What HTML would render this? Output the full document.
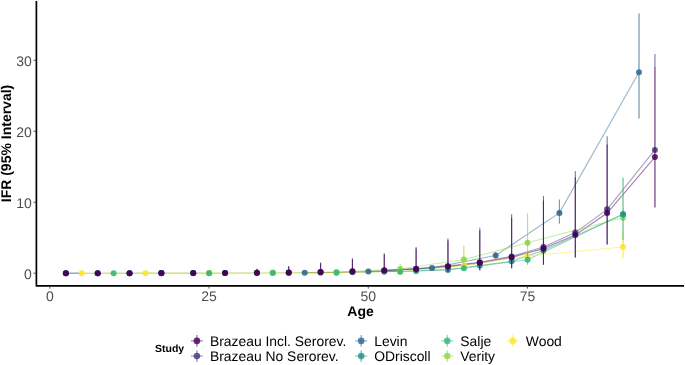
<!DOCTYPE html>
<html><head><meta charset="utf-8"><title>IFR by Age</title>
<style>
html,body{margin:0;padding:0;background:#fff;}
body{width:685px;height:365px;overflow:hidden;}
svg{display:block;font-family:"Liberation Sans",Arial,Helvetica,sans-serif;text-rendering:geometricPrecision;}
.tk{font-size:14px;fill:#4d4d4d;}
.ti{font-size:14px;font-weight:bold;fill:#000;}
.lg{font-size:13.9px;fill:#000;}
.lt{font-size:10.5px;font-weight:bold;fill:#000;}
</style></head>
<body>
<svg width="685" height="365" viewBox="0 0 685 365">
<rect width="685" height="365" fill="#fff"/>
<g>
<line x1="65.87" y1="273.18" x2="81.79" y2="273.18" stroke="#4a7691" stroke-width="1.1" stroke-opacity="0.85"/>
<polyline points="81.79,273.19 145.47,273.16 209.15,273.09 272.83,272.95 304.67,272.77" fill="none" stroke="#b8d04c" stroke-width="1.1" stroke-opacity="0.85"/>
<polyline points="304.67,272.77 336.51,272.42 368.35,271.78 400.19,270.86" fill="none" stroke="#a3b347" stroke-width="1.4" stroke-opacity="0.9"/>
<polyline points="384.27,270.46 416.11,269.06 447.95,266.58 479.79,262.84 511.63,257.36 543.47,248.60 575.31,234.96 607.15,213.03 654.91,157.08" fill="none" stroke="#440154" stroke-width="1.1" stroke-opacity="0.48" stroke-linejoin="round"/>
<polyline points="384.27,270.29 416.11,268.80 447.95,266.17 479.79,262.20 511.63,256.38 543.47,247.08 575.31,232.61 607.15,209.33 654.91,149.93" fill="none" stroke="#443A83" stroke-width="1.1" stroke-opacity="0.48" stroke-linejoin="round"/>
<polyline points="368.35,271.57 432.03,267.88 495.71,255.46 559.39,212.88 638.99,72.35" fill="none" stroke="#31688E" stroke-width="1.1" stroke-opacity="0.48" stroke-linejoin="round"/>
<polyline points="384.27,271.73 416.11,270.91 447.95,269.96 479.79,265.57 511.63,261.32 543.47,250.47 623.07,214.35" fill="none" stroke="#21908C" stroke-width="1.1" stroke-opacity="0.48" stroke-linejoin="round"/>
<polyline points="400.19,271.78 463.87,268.23 527.55,259.72 623.07,214.29" fill="none" stroke="#35B779" stroke-width="1.1" stroke-opacity="0.48" stroke-linejoin="round"/>
<polyline points="336.51,272.06 400.19,268.98 463.87,259.50 527.55,242.82 623.07,217.84" fill="none" stroke="#8FD744" stroke-width="1.1" stroke-opacity="0.48" stroke-linejoin="round"/>
<polyline points="400.19,271.78 463.87,265.61 527.55,256.03 623.07,246.94" fill="none" stroke="#FDE725" stroke-width="1.1" stroke-opacity="0.48" stroke-linejoin="round"/>
<line x1="81.79" x2="81.79" y1="273.06" y2="273.20" stroke="#FDE725" stroke-width="1.1" stroke-opacity="0.7"/>
<circle cx="81.79" cy="273.20" r="3.0" fill="#FDE725" fill-opacity="0.9"/>
<line x1="145.47" x2="145.47" y1="272.99" y2="273.20" stroke="#FDE725" stroke-width="1.1" stroke-opacity="0.7"/>
<circle cx="145.47" cy="273.20" r="3.0" fill="#FDE725" fill-opacity="0.9"/>
<line x1="209.15" x2="209.15" y1="272.85" y2="273.20" stroke="#FDE725" stroke-width="1.1" stroke-opacity="0.7"/>
<circle cx="209.15" cy="273.13" r="3.0" fill="#FDE725" fill-opacity="0.9"/>
<line x1="272.83" x2="272.83" y1="272.49" y2="273.13" stroke="#FDE725" stroke-width="1.1" stroke-opacity="0.7"/>
<circle cx="272.83" cy="272.99" r="3.0" fill="#FDE725" fill-opacity="0.9"/>
<line x1="336.51" x2="336.51" y1="272.14" y2="272.92" stroke="#FDE725" stroke-width="1.1" stroke-opacity="0.7"/>
<circle cx="336.51" cy="272.63" r="3.0" fill="#FDE725" fill-opacity="0.9"/>
<line x1="400.19" x2="400.19" y1="270.72" y2="272.35" stroke="#FDE725" stroke-width="1.1" stroke-opacity="0.7"/>
<circle cx="400.19" cy="271.78" r="3.0" fill="#FDE725" fill-opacity="0.9"/>
<line x1="463.87" x2="463.87" y1="263.26" y2="267.52" stroke="#FDE725" stroke-width="1.1" stroke-opacity="0.7"/>
<circle cx="463.87" cy="265.61" r="3.0" fill="#FDE725" fill-opacity="0.9"/>
<line x1="527.55" x2="527.55" y1="251.91" y2="259.72" stroke="#FDE725" stroke-width="1.1" stroke-opacity="0.7"/>
<circle cx="527.55" cy="256.03" r="3.0" fill="#FDE725" fill-opacity="0.9"/>
<line x1="623.07" x2="623.07" y1="231.33" y2="258.51" stroke="#FDE725" stroke-width="1.7" stroke-opacity="0.5"/>
<circle cx="623.07" cy="246.94" r="3.0" fill="#FDE725" fill-opacity="0.85"/>
<line x1="209.15" x2="209.15" y1="272.54" y2="273.10" stroke="#8FD744" stroke-width="1.1" stroke-opacity="0.7"/>
<circle cx="209.15" cy="272.98" r="3.0" fill="#8FD744" fill-opacity="0.9"/>
<line x1="272.83" x2="272.83" y1="271.89" y2="272.91" stroke="#8FD744" stroke-width="1.1" stroke-opacity="0.7"/>
<circle cx="272.83" cy="272.60" r="3.0" fill="#8FD744" fill-opacity="0.9"/>
<line x1="336.51" x2="336.51" y1="270.91" y2="272.66" stroke="#8FD744" stroke-width="1.1" stroke-opacity="0.7"/>
<circle cx="336.51" cy="272.06" r="3.0" fill="#8FD744" fill-opacity="0.9"/>
<line x1="400.19" x2="400.19" y1="264.12" y2="270.76" stroke="#8FD744" stroke-width="1.1" stroke-opacity="0.7"/>
<circle cx="400.19" cy="268.98" r="3.0" fill="#8FD744" fill-opacity="0.9"/>
<line x1="463.87" x2="463.87" y1="245.59" y2="265.32" stroke="#8FD744" stroke-width="1.1" stroke-opacity="0.7"/>
<circle cx="463.87" cy="259.50" r="3.0" fill="#8FD744" fill-opacity="0.9"/>
<line x1="527.55" x2="527.55" y1="213.30" y2="255.81" stroke="#8FD744" stroke-width="1.1" stroke-opacity="0.7"/>
<circle cx="527.55" cy="242.82" r="3.0" fill="#8FD744" fill-opacity="0.9"/>
<line x1="623.07" x2="623.07" y1="178.81" y2="246.23" stroke="#8FD744" stroke-width="1.7" stroke-opacity="0.18"/>
<circle cx="623.07" cy="217.84" r="3.0" fill="#8FD744" fill-opacity="0.85"/>
<line x1="113.63" x2="113.63" y1="273.19" y2="273.20" stroke="#35B779" stroke-width="1.1" stroke-opacity="0.7"/>
<circle cx="113.63" cy="273.19" r="3.0" fill="#35B779" fill-opacity="0.9"/>
<line x1="209.15" x2="209.15" y1="273.14" y2="273.18" stroke="#35B779" stroke-width="1.1" stroke-opacity="0.7"/>
<circle cx="209.15" cy="273.16" r="3.0" fill="#35B779" fill-opacity="0.9"/>
<line x1="272.83" x2="272.83" y1="272.99" y2="273.13" stroke="#35B779" stroke-width="1.1" stroke-opacity="0.7"/>
<circle cx="272.83" cy="273.06" r="3.0" fill="#35B779" fill-opacity="0.9"/>
<line x1="336.51" x2="336.51" y1="272.63" y2="272.99" stroke="#35B779" stroke-width="1.1" stroke-opacity="0.7"/>
<circle cx="336.51" cy="272.85" r="3.0" fill="#35B779" fill-opacity="0.9"/>
<line x1="400.19" x2="400.19" y1="271.07" y2="272.49" stroke="#35B779" stroke-width="1.1" stroke-opacity="0.7"/>
<circle cx="400.19" cy="271.78" r="3.0" fill="#35B779" fill-opacity="0.9"/>
<line x1="463.87" x2="463.87" y1="265.39" y2="270.36" stroke="#35B779" stroke-width="1.1" stroke-opacity="0.7"/>
<circle cx="463.87" cy="268.23" r="3.0" fill="#35B779" fill-opacity="0.9"/>
<line x1="527.55" x2="527.55" y1="251.91" y2="264.68" stroke="#35B779" stroke-width="1.1" stroke-opacity="0.7"/>
<circle cx="527.55" cy="259.72" r="3.0" fill="#35B779" fill-opacity="0.9"/>
<line x1="623.07" x2="623.07" y1="177.39" y2="239.84" stroke="#35B779" stroke-width="1.7" stroke-opacity="0.5"/>
<circle cx="623.07" cy="214.29" r="3.0" fill="#35B779" fill-opacity="0.85"/>
<line x1="65.87" x2="65.87" y1="273.18" y2="273.18" stroke="#21908C" stroke-width="1.1" stroke-opacity="0.7"/>
<circle cx="65.87" cy="273.18" r="3.0" fill="#21908C" fill-opacity="0.9"/>
<line x1="97.71" x2="97.71" y1="273.19" y2="273.19" stroke="#21908C" stroke-width="1.1" stroke-opacity="0.7"/>
<circle cx="97.71" cy="273.19" r="3.0" fill="#21908C" fill-opacity="0.9"/>
<line x1="129.55" x2="129.55" y1="273.19" y2="273.19" stroke="#21908C" stroke-width="1.1" stroke-opacity="0.7"/>
<circle cx="129.55" cy="273.19" r="3.0" fill="#21908C" fill-opacity="0.9"/>
<line x1="161.39" x2="161.39" y1="273.18" y2="273.18" stroke="#21908C" stroke-width="1.1" stroke-opacity="0.7"/>
<circle cx="161.39" cy="273.18" r="3.0" fill="#21908C" fill-opacity="0.9"/>
<line x1="193.23" x2="193.23" y1="273.15" y2="273.16" stroke="#21908C" stroke-width="1.1" stroke-opacity="0.7"/>
<circle cx="193.23" cy="273.16" r="3.0" fill="#21908C" fill-opacity="0.9"/>
<line x1="225.07" x2="225.07" y1="273.10" y2="273.12" stroke="#21908C" stroke-width="1.1" stroke-opacity="0.7"/>
<circle cx="225.07" cy="273.11" r="3.0" fill="#21908C" fill-opacity="0.9"/>
<line x1="256.91" x2="256.91" y1="273.01" y2="273.05" stroke="#21908C" stroke-width="1.1" stroke-opacity="0.7"/>
<circle cx="256.91" cy="273.03" r="3.0" fill="#21908C" fill-opacity="0.9"/>
<line x1="288.75" x2="288.75" y1="272.89" y2="272.94" stroke="#21908C" stroke-width="1.1" stroke-opacity="0.7"/>
<circle cx="288.75" cy="272.92" r="3.0" fill="#21908C" fill-opacity="0.9"/>
<line x1="320.59" x2="320.59" y1="272.61" y2="272.72" stroke="#21908C" stroke-width="1.1" stroke-opacity="0.7"/>
<circle cx="320.59" cy="272.67" r="3.0" fill="#21908C" fill-opacity="0.9"/>
<line x1="352.43" x2="352.43" y1="272.26" y2="272.43" stroke="#21908C" stroke-width="1.1" stroke-opacity="0.7"/>
<circle cx="352.43" cy="272.34" r="3.0" fill="#21908C" fill-opacity="0.9"/>
<line x1="384.27" x2="384.27" y1="271.58" y2="271.88" stroke="#21908C" stroke-width="1.1" stroke-opacity="0.7"/>
<circle cx="384.27" cy="271.73" r="3.0" fill="#21908C" fill-opacity="0.9"/>
<line x1="416.11" x2="416.11" y1="270.68" y2="271.14" stroke="#21908C" stroke-width="1.1" stroke-opacity="0.7"/>
<circle cx="416.11" cy="270.91" r="3.0" fill="#21908C" fill-opacity="0.9"/>
<line x1="447.95" x2="447.95" y1="269.64" y2="270.29" stroke="#21908C" stroke-width="1.1" stroke-opacity="0.7"/>
<circle cx="447.95" cy="269.96" r="3.0" fill="#21908C" fill-opacity="0.9"/>
<line x1="479.79" x2="479.79" y1="264.81" y2="266.33" stroke="#21908C" stroke-width="1.1" stroke-opacity="0.7"/>
<circle cx="479.79" cy="265.57" r="3.0" fill="#21908C" fill-opacity="0.9"/>
<line x1="511.63" x2="511.63" y1="260.13" y2="262.51" stroke="#21908C" stroke-width="1.1" stroke-opacity="0.7"/>
<circle cx="511.63" cy="261.32" r="3.0" fill="#21908C" fill-opacity="0.9"/>
<line x1="543.47" x2="543.47" y1="248.20" y2="252.74" stroke="#21908C" stroke-width="1.1" stroke-opacity="0.7"/>
<circle cx="543.47" cy="250.47" r="3.0" fill="#21908C" fill-opacity="0.9"/>
<line x1="623.07" x2="623.07" y1="208.47" y2="220.24" stroke="#21908C" stroke-width="1.7" stroke-opacity="0.2"/>
<circle cx="623.07" cy="214.35" r="3.0" fill="#21908C" fill-opacity="0.85"/>
<line x1="161.39" x2="161.39" y1="273.16" y2="273.18" stroke="#31688E" stroke-width="1.1" stroke-opacity="0.7"/>
<circle cx="161.39" cy="273.17" r="3.0" fill="#31688E" fill-opacity="0.9"/>
<line x1="304.67" x2="304.67" y1="272.65" y2="272.79" stroke="#31688E" stroke-width="1.1" stroke-opacity="0.7"/>
<circle cx="304.67" cy="272.72" r="3.0" fill="#31688E" fill-opacity="0.9"/>
<line x1="368.35" x2="368.35" y1="271.35" y2="271.78" stroke="#31688E" stroke-width="1.1" stroke-opacity="0.7"/>
<circle cx="368.35" cy="271.57" r="3.0" fill="#31688E" fill-opacity="0.9"/>
<line x1="432.03" x2="432.03" y1="267.03" y2="268.52" stroke="#31688E" stroke-width="1.1" stroke-opacity="0.7"/>
<circle cx="432.03" cy="267.88" r="3.0" fill="#31688E" fill-opacity="0.9"/>
<line x1="495.71" x2="495.71" y1="251.91" y2="258.30" stroke="#31688E" stroke-width="1.1" stroke-opacity="0.7"/>
<circle cx="495.71" cy="255.46" r="3.0" fill="#31688E" fill-opacity="0.9"/>
<line x1="559.39" x2="559.39" y1="199.39" y2="223.80" stroke="#31688E" stroke-width="1.1" stroke-opacity="0.7"/>
<circle cx="559.39" cy="212.88" r="3.0" fill="#31688E" fill-opacity="0.9"/>
<line x1="638.99" x2="638.99" y1="13.45" y2="118.49" stroke="#31688E" stroke-width="1.7" stroke-opacity="0.5"/>
<circle cx="638.99" cy="72.35" r="3.0" fill="#31688E" fill-opacity="0.85"/>
<line x1="65.87" x2="65.87" y1="272.99" y2="273.20" stroke="#443A83" stroke-width="1.1" stroke-opacity="0.7"/>
<circle cx="65.87" cy="273.20" r="3.0" fill="#443A83" fill-opacity="0.9"/>
<line x1="97.71" x2="97.71" y1="272.77" y2="273.20" stroke="#443A83" stroke-width="1.1" stroke-opacity="0.7"/>
<circle cx="97.71" cy="273.13" r="3.0" fill="#443A83" fill-opacity="0.9"/>
<line x1="129.55" x2="129.55" y1="272.42" y2="273.20" stroke="#443A83" stroke-width="1.1" stroke-opacity="0.7"/>
<circle cx="129.55" cy="273.13" r="3.0" fill="#443A83" fill-opacity="0.9"/>
<line x1="161.39" x2="161.39" y1="271.92" y2="273.20" stroke="#443A83" stroke-width="1.1" stroke-opacity="0.7"/>
<circle cx="161.39" cy="273.06" r="3.0" fill="#443A83" fill-opacity="0.9"/>
<line x1="193.23" x2="193.23" y1="271.43" y2="273.20" stroke="#443A83" stroke-width="1.1" stroke-opacity="0.7"/>
<circle cx="193.23" cy="272.99" r="3.0" fill="#443A83" fill-opacity="0.9"/>
<line x1="225.07" x2="225.07" y1="270.36" y2="273.20" stroke="#443A83" stroke-width="1.1" stroke-opacity="0.7"/>
<circle cx="225.07" cy="272.92" r="3.0" fill="#443A83" fill-opacity="0.9"/>
<line x1="256.91" x2="256.91" y1="268.80" y2="273.13" stroke="#443A83" stroke-width="1.1" stroke-opacity="0.7"/>
<circle cx="256.91" cy="272.70" r="3.0" fill="#443A83" fill-opacity="0.9"/>
<line x1="288.75" x2="288.75" y1="266.10" y2="273.13" stroke="#443A83" stroke-width="1.1" stroke-opacity="0.7"/>
<circle cx="288.75" cy="272.42" r="3.0" fill="#443A83" fill-opacity="0.9"/>
<line x1="320.59" x2="320.59" y1="262.55" y2="273.06" stroke="#443A83" stroke-width="1.1" stroke-opacity="0.7"/>
<circle cx="320.59" cy="271.99" r="3.0" fill="#443A83" fill-opacity="0.9"/>
<line x1="352.43" x2="352.43" y1="258.30" y2="272.99" stroke="#443A83" stroke-width="1.1" stroke-opacity="0.7"/>
<circle cx="352.43" cy="271.35" r="3.0" fill="#443A83" fill-opacity="0.9"/>
<line x1="384.27" x2="384.27" y1="253.33" y2="272.85" stroke="#443A83" stroke-width="1.1" stroke-opacity="0.7"/>
<circle cx="384.27" cy="270.29" r="3.0" fill="#443A83" fill-opacity="0.9"/>
<line x1="416.11" x2="416.11" y1="246.94" y2="272.49" stroke="#443A83" stroke-width="1.1" stroke-opacity="0.7"/>
<circle cx="416.11" cy="268.80" r="3.0" fill="#443A83" fill-opacity="0.9"/>
<line x1="447.95" x2="447.95" y1="238.42" y2="271.78" stroke="#443A83" stroke-width="1.1" stroke-opacity="0.7"/>
<circle cx="447.95" cy="266.17" r="3.0" fill="#443A83" fill-opacity="0.9"/>
<line x1="479.79" x2="479.79" y1="227.78" y2="270.15" stroke="#443A83" stroke-width="1.1" stroke-opacity="0.7"/>
<circle cx="479.79" cy="262.20" r="3.0" fill="#443A83" fill-opacity="0.9"/>
<line x1="511.63" x2="511.63" y1="214.29" y2="268.37" stroke="#443A83" stroke-width="1.1" stroke-opacity="0.7"/>
<circle cx="511.63" cy="256.38" r="3.0" fill="#443A83" fill-opacity="0.9"/>
<line x1="543.47" x2="543.47" y1="195.84" y2="264.68" stroke="#443A83" stroke-width="1.1" stroke-opacity="0.7"/>
<circle cx="543.47" cy="247.08" r="3.0" fill="#443A83" fill-opacity="0.9"/>
<line x1="575.31" x2="575.31" y1="171.00" y2="257.44" stroke="#443A83" stroke-width="1.1" stroke-opacity="0.7"/>
<circle cx="575.31" cy="232.61" r="3.0" fill="#443A83" fill-opacity="0.9"/>
<line x1="607.15" x2="607.15" y1="136.23" y2="244.60" stroke="#443A83" stroke-width="1.1" stroke-opacity="0.7"/>
<circle cx="607.15" cy="209.33" r="3.0" fill="#443A83" fill-opacity="0.9"/>
<line x1="654.91" x2="654.91" y1="53.90" y2="67.06" stroke="#443A83" stroke-width="1.7" stroke-opacity="0.45"/>
<circle cx="654.91" cy="149.93" r="3.0" fill="#443A83" fill-opacity="0.85"/>
<line x1="65.87" x2="65.87" y1="273.00" y2="273.20" stroke="#440154" stroke-width="1.1" stroke-opacity="0.7"/>
<circle cx="65.87" cy="273.20" r="3.0" fill="#440154" fill-opacity="0.9"/>
<line x1="97.71" x2="97.71" y1="272.80" y2="273.20" stroke="#440154" stroke-width="1.1" stroke-opacity="0.7"/>
<circle cx="97.71" cy="273.13" r="3.0" fill="#440154" fill-opacity="0.9"/>
<line x1="129.55" x2="129.55" y1="272.47" y2="273.20" stroke="#440154" stroke-width="1.1" stroke-opacity="0.7"/>
<circle cx="129.55" cy="273.13" r="3.0" fill="#440154" fill-opacity="0.9"/>
<line x1="161.39" x2="161.39" y1="272.00" y2="273.20" stroke="#440154" stroke-width="1.1" stroke-opacity="0.7"/>
<circle cx="161.39" cy="273.07" r="3.0" fill="#440154" fill-opacity="0.9"/>
<line x1="193.23" x2="193.23" y1="271.53" y2="273.20" stroke="#440154" stroke-width="1.1" stroke-opacity="0.7"/>
<circle cx="193.23" cy="273.00" r="3.0" fill="#440154" fill-opacity="0.9"/>
<line x1="225.07" x2="225.07" y1="270.53" y2="273.20" stroke="#440154" stroke-width="1.1" stroke-opacity="0.7"/>
<circle cx="225.07" cy="272.93" r="3.0" fill="#440154" fill-opacity="0.9"/>
<line x1="256.91" x2="256.91" y1="269.06" y2="273.13" stroke="#440154" stroke-width="1.1" stroke-opacity="0.7"/>
<circle cx="256.91" cy="272.73" r="3.0" fill="#440154" fill-opacity="0.9"/>
<line x1="288.75" x2="288.75" y1="266.53" y2="273.13" stroke="#440154" stroke-width="1.1" stroke-opacity="0.7"/>
<circle cx="288.75" cy="272.46" r="3.0" fill="#440154" fill-opacity="0.9"/>
<line x1="320.59" x2="320.59" y1="263.19" y2="273.06" stroke="#440154" stroke-width="1.1" stroke-opacity="0.7"/>
<circle cx="320.59" cy="272.06" r="3.0" fill="#440154" fill-opacity="0.9"/>
<line x1="352.43" x2="352.43" y1="259.19" y2="272.99" stroke="#440154" stroke-width="1.1" stroke-opacity="0.7"/>
<circle cx="352.43" cy="271.46" r="3.0" fill="#440154" fill-opacity="0.9"/>
<line x1="384.27" x2="384.27" y1="254.52" y2="272.85" stroke="#440154" stroke-width="1.1" stroke-opacity="0.7"/>
<circle cx="384.27" cy="270.46" r="3.0" fill="#440154" fill-opacity="0.9"/>
<line x1="416.11" x2="416.11" y1="248.52" y2="272.49" stroke="#440154" stroke-width="1.1" stroke-opacity="0.7"/>
<circle cx="416.11" cy="269.06" r="3.0" fill="#440154" fill-opacity="0.9"/>
<line x1="447.95" x2="447.95" y1="240.51" y2="271.78" stroke="#440154" stroke-width="1.1" stroke-opacity="0.7"/>
<circle cx="447.95" cy="266.58" r="3.0" fill="#440154" fill-opacity="0.9"/>
<line x1="479.79" x2="479.79" y1="230.50" y2="270.15" stroke="#440154" stroke-width="1.1" stroke-opacity="0.7"/>
<circle cx="479.79" cy="262.84" r="3.0" fill="#440154" fill-opacity="0.9"/>
<line x1="511.63" x2="511.63" y1="217.83" y2="268.37" stroke="#440154" stroke-width="1.1" stroke-opacity="0.7"/>
<circle cx="511.63" cy="257.36" r="3.0" fill="#440154" fill-opacity="0.9"/>
<line x1="543.47" x2="543.47" y1="200.48" y2="264.68" stroke="#440154" stroke-width="1.1" stroke-opacity="0.7"/>
<circle cx="543.47" cy="248.60" r="3.0" fill="#440154" fill-opacity="0.9"/>
<line x1="575.31" x2="575.31" y1="177.14" y2="257.44" stroke="#440154" stroke-width="1.1" stroke-opacity="0.7"/>
<circle cx="575.31" cy="234.96" r="3.0" fill="#440154" fill-opacity="0.9"/>
<line x1="607.15" x2="607.15" y1="144.45" y2="244.60" stroke="#440154" stroke-width="1.1" stroke-opacity="0.7"/>
<circle cx="607.15" cy="213.03" r="3.0" fill="#440154" fill-opacity="0.9"/>
<line x1="654.91" x2="654.91" y1="67.06" y2="207.41" stroke="#440154" stroke-width="1.7" stroke-opacity="0.55"/>
<circle cx="654.91" cy="157.08" r="3.0" fill="#440154" fill-opacity="0.85"/>
</g>
<polyline points="36.4,0.9 36.4,285.95 684.1,285.95" fill="none" stroke="#000" stroke-width="1.7" stroke-linejoin="round"/>
<line x1="33.6" x2="35.8" y1="273.20" y2="273.20" stroke="#333" stroke-width="0.9"/>
<text transform="translate(31.90,278.95) scale(1.0,1)" text-anchor="end" class="tk">0</text>
<line x1="33.6" x2="35.8" y1="202.23" y2="202.23" stroke="#333" stroke-width="0.9"/>
<text transform="translate(31.90,207.98) scale(1.0,1)" text-anchor="end" class="tk">10</text>
<line x1="33.6" x2="35.8" y1="131.26" y2="131.26" stroke="#333" stroke-width="0.9"/>
<text transform="translate(31.90,137.01) scale(1.0,1)" text-anchor="end" class="tk">20</text>
<line x1="33.6" x2="35.8" y1="60.29" y2="60.29" stroke="#333" stroke-width="0.9"/>
<text transform="translate(31.90,66.04) scale(1.0,1)" text-anchor="end" class="tk">30</text>
<line x1="49.85" x2="49.85" y1="286.7" y2="288.6" stroke="#444" stroke-width="0.9"/>
<text transform="translate(49.85,300.60) scale(1.0,1)" text-anchor="middle" class="tk">0</text>
<line x1="209.05" x2="209.05" y1="286.7" y2="288.6" stroke="#444" stroke-width="0.9"/>
<text transform="translate(209.05,300.60) scale(1.0,1)" text-anchor="middle" class="tk">25</text>
<line x1="368.25" x2="368.25" y1="286.7" y2="288.6" stroke="#444" stroke-width="0.9"/>
<text transform="translate(368.25,300.60) scale(1.0,1)" text-anchor="middle" class="tk">50</text>
<line x1="527.45" x2="527.45" y1="286.7" y2="288.6" stroke="#444" stroke-width="0.9"/>
<text transform="translate(527.45,300.60) scale(1.0,1)" text-anchor="middle" class="tk">75</text>
<text transform="translate(360.50,316.20) scale(1.0,1)" text-anchor="middle" class="ti">Age</text>
<text transform="translate(10.80,143.50) rotate(-90) scale(1.0,1)" text-anchor="middle" class="ti">IFR (95% Interval)</text>
<line x1="190.9" x2="202.9" y1="340.9" y2="340.9" stroke="#440154" stroke-width="1.2" stroke-opacity="0.5"/><line x1="196.9" x2="196.9" y1="335.09999999999997" y2="346.7" stroke="#440154" stroke-width="1.4" stroke-opacity="0.5"/><circle cx="196.9" cy="340.9" r="3.3" fill="#440154" fill-opacity="0.8"/>
<text transform="translate(209.90,345.80) scale(1.0,1)" class="lg">Brazeau Incl. Serorev.</text>
<line x1="190.9" x2="202.9" y1="356.1" y2="356.1" stroke="#443A83" stroke-width="1.2" stroke-opacity="0.5"/><line x1="196.9" x2="196.9" y1="350.3" y2="361.90000000000003" stroke="#443A83" stroke-width="1.4" stroke-opacity="0.5"/><circle cx="196.9" cy="356.1" r="3.3" fill="#443A83" fill-opacity="0.8"/>
<text transform="translate(209.90,361.10) scale(1.0,1)" class="lg">Brazeau No Serorev.</text>
<line x1="355.2" x2="367.2" y1="340.9" y2="340.9" stroke="#31688E" stroke-width="1.2" stroke-opacity="0.5"/><line x1="361.2" x2="361.2" y1="335.09999999999997" y2="346.7" stroke="#31688E" stroke-width="1.4" stroke-opacity="0.5"/><circle cx="361.2" cy="340.9" r="3.3" fill="#31688E" fill-opacity="0.8"/>
<text transform="translate(374.20,345.80) scale(1.0,1)" class="lg">Levin</text>
<line x1="355.2" x2="367.2" y1="356.1" y2="356.1" stroke="#21908C" stroke-width="1.2" stroke-opacity="0.5"/><line x1="361.2" x2="361.2" y1="350.3" y2="361.90000000000003" stroke="#21908C" stroke-width="1.4" stroke-opacity="0.5"/><circle cx="361.2" cy="356.1" r="3.3" fill="#21908C" fill-opacity="0.8"/>
<text transform="translate(374.20,361.10) scale(1.0,1)" class="lg">ODriscoll</text>
<line x1="441.3" x2="453.3" y1="340.9" y2="340.9" stroke="#35B779" stroke-width="1.2" stroke-opacity="0.5"/><line x1="447.3" x2="447.3" y1="335.09999999999997" y2="346.7" stroke="#35B779" stroke-width="1.4" stroke-opacity="0.5"/><circle cx="447.3" cy="340.9" r="3.3" fill="#35B779" fill-opacity="0.8"/>
<text transform="translate(460.30,345.80) scale(1.0,1)" class="lg">Salje</text>
<line x1="441.3" x2="453.3" y1="356.1" y2="356.1" stroke="#8FD744" stroke-width="1.2" stroke-opacity="0.5"/><line x1="447.3" x2="447.3" y1="350.3" y2="361.90000000000003" stroke="#8FD744" stroke-width="1.4" stroke-opacity="0.5"/><circle cx="447.3" cy="356.1" r="3.3" fill="#8FD744" fill-opacity="0.8"/>
<text transform="translate(460.30,361.10) scale(1.0,1)" class="lg">Verity</text>
<line x1="506.79999999999995" x2="518.8" y1="340.9" y2="340.9" stroke="#FDE725" stroke-width="1.2" stroke-opacity="0.5"/><line x1="512.8" x2="512.8" y1="335.09999999999997" y2="346.7" stroke="#FDE725" stroke-width="1.4" stroke-opacity="0.5"/><circle cx="512.8" cy="340.9" r="3.3" fill="#FDE725" fill-opacity="0.8"/>
<text transform="translate(525.80,345.80) scale(1.0,1)" class="lg">Wood</text>
<text transform="translate(155.00,352.40) scale(1.0,1)" class="lt">Study</text>
</svg>
</body></html>
